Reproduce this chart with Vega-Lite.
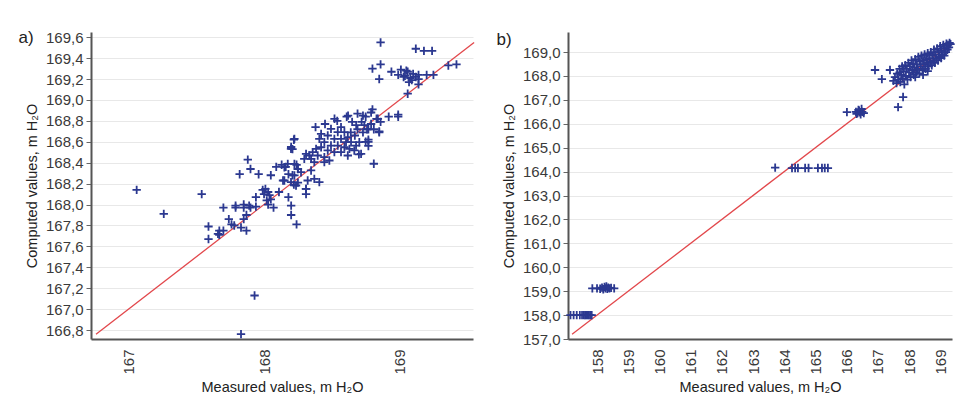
{
  "$schema": "https://vega.github.io/schema/vega-lite/v6.json",
  "background": "white",
  "padding": {"left": 18, "top": 29, "right": 5, "bottom": 2},
  "spacing": 21,
  "config": {
    "font": "Liberation Sans",
    "view": {"stroke": null},
    "axis": {
      "labelFont": "Liberation Sans", "labelFontSize": 15, "labelColor": "#3a3a3a",
      "titleFont": "Liberation Sans", "titleFontSize": 14.5, "titleFontWeight": "normal", "titleColor": "#222222",
      "domainColor": "#555555", "domainWidth": 2, "tickColor": "#666666", "gridColor": "#e8e8e8"
    },
    "title": {"font": "Liberation Sans", "fontSize": 17, "fontWeight": "normal", "color": "#222222", "anchor": "start", "frame": "bounds"}
  },
  "datasets": {
    "a": [
      {"m":168.86,"c":169.55},{"m":169.12,"c":169.49},{"m":169.18,"c":169.47},{"m":169.24,"c":169.47},{"m":168.80,"c":169.30},{"m":168.86,"c":169.34},{"m":168.85,"c":169.20},{"m":169.36,"c":169.33},{"m":169.42,"c":169.34},{"m":169.25,"c":169.24},{"m":169.20,"c":169.24},{"m":168.94,"c":169.27},{"m":168.99,"c":169.24},{"m":169.01,"c":169.29},{"m":169.03,"c":169.22},{"m":169.06,"c":169.27},{"m":169.08,"c":169.21},{"m":169.10,"c":169.25},{"m":169.14,"c":169.20},{"m":169.07,"c":169.17},{"m":169.14,"c":169.24},{"m":169.05,"c":169.28},{"m":169.06,"c":169.06},{"m":169.14,"c":169.15},{"m":169.04,"c":169.23},{"m":169.09,"c":169.19},{"m":169.12,"c":169.22},
      {"m":168.92,"c":168.84},{"m":168.99,"c":168.84},{"m":168.99,"c":168.86},{"m":168.79,"c":168.88},{"m":168.84,"c":168.82},{"m":168.85,"c":168.70},{"m":168.77,"c":168.72},{"m":168.81,"c":168.39},{"m":168.77,"c":168.60},{"m":168.77,"c":168.56},{"m":168.70,"c":168.48},
      {"m":168.80,"c":168.91},{"m":168.86,"c":168.79},{"m":168.85,"c":168.69},{"m":168.77,"c":168.62},{"m":168.75,"c":168.60},
      {"m":168.62,"c":168.85},{"m":168.69,"c":168.87},{"m":168.73,"c":168.85},{"m":168.75,"c":168.84},{"m":168.65,"c":168.79},{"m":168.68,"c":168.76},{"m":168.72,"c":168.79},{"m":168.74,"c":168.76},{"m":168.69,"c":168.72},{"m":168.64,"c":168.69},{"m":168.67,"c":168.66},{"m":168.73,"c":168.69},{"m":168.76,"c":168.72},{"m":168.79,"c":168.77},{"m":168.83,"c":168.82},{"m":168.81,"c":168.72},
      {"m":168.61,"c":168.84},{"m":168.54,"c":168.80},{"m":168.52,"c":168.82},{"m":168.45,"c":168.77},{"m":168.38,"c":168.74},
      {"m":168.568,"c":168.740},{"m":168.593,"c":168.692},{"m":168.618,"c":168.644},{"m":168.544,"c":168.692},{"m":168.494,"c":168.723},{"m":168.470,"c":168.660},{"m":168.519,"c":168.628},{"m":168.568,"c":168.628},{"m":168.605,"c":168.596},{"m":168.642,"c":168.596},{"m":168.421,"c":168.676},{"m":168.408,"c":168.628},{"m":168.445,"c":168.596},{"m":168.494,"c":168.564},{"m":168.544,"c":168.564},{"m":168.593,"c":168.548},{"m":168.630,"c":168.532},{"m":168.679,"c":168.564},{"m":168.703,"c":168.596},{"m":168.666,"c":168.517},{"m":168.716,"c":168.484},{"m":168.618,"c":168.469},{"m":168.568,"c":168.501},{"m":168.519,"c":168.501},{"m":168.470,"c":168.517},{"m":168.421,"c":168.548},{"m":168.384,"c":168.532},{"m":168.359,"c":168.501},{"m":168.334,"c":168.469},{"m":168.310,"c":168.484},{"m":168.396,"c":168.469},{"m":168.445,"c":168.453},{"m":168.482,"c":168.421},{"m":168.445,"c":168.405},{"m":168.371,"c":168.405},{"m":168.347,"c":168.437},{"m":168.297,"c":168.437},{"m":168.224,"c":168.628},{"m":168.199,"c":168.532},{"m":168.224,"c":168.389},{"m":168.175,"c":168.389},{"m":168.150,"c":168.357},{"m":168.249,"c":168.341},{"m":168.273,"c":168.309},{"m":168.347,"c":168.326},{"m":168.371,"c":168.245},{"m":168.408,"c":168.214},{"m":168.322,"c":168.230},{"m":168.224,"c":168.278},{"m":168.236,"c":168.182},{"m":168.310,"c":168.150},{"m":168.150,"c":168.230},{"m":168.199,"c":168.214},
      {"m":167.54,"c":168.10},{"m":167.59,"c":167.79},{"m":167.59,"c":167.67},{"m":167.67,"c":167.71},{"m":167.70,"c":167.75},{"m":167.70,"c":167.97},{"m":167.74,"c":167.86},{"m":167.78,"c":167.80},{"m":167.79,"c":167.97},{"m":167.83,"c":167.78},{"m":167.85,"c":168.00},{"m":167.85,"c":167.97},{"m":167.87,"c":167.90},{"m":167.85,"c":167.86},{"m":167.87,"c":167.75},{"m":167.88,"c":168.43},{"m":167.90,"c":168.34},{"m":167.82,"c":168.29},{"m":167.96,"c":168.29},{"m":167.90,"c":167.97},{"m":167.94,"c":168.07},{"m":167.99,"c":168.14},{"m":168.00,"c":168.10},{"m":168.01,"c":168.15},{"m":168.03,"c":168.12},{"m":168.04,"c":168.09},{"m":168.05,"c":168.05},{"m":168.02,"c":168.04},{"m":168.05,"c":168.28},{"m":168.07,"c":167.97},{"m":168.11,"c":168.12},{"m":168.09,"c":168.36},{"m":168.13,"c":168.38},{"m":168.16,"c":168.36},{"m":168.14,"c":168.23},{"m":168.18,"c":168.29},{"m":168.21,"c":168.28},{"m":168.20,"c":168.55},{"m":168.21,"c":168.53},{"m":168.22,"c":168.62},{"m":168.24,"c":168.38},{"m":168.25,"c":168.34},{"m":168.20,"c":167.90},{"m":168.24,"c":167.81},{"m":168.18,"c":168.07},{"m":168.20,"c":167.99},{"m":168.22,"c":168.19},{"m":168.25,"c":168.21},{"m":168.31,"c":168.15},{"m":168.31,"c":168.10},
      {"m":167.79,"c":167.99},{"m":167.89,"c":167.99},{"m":167.94,"c":167.98},{"m":168.03,"c":168.00},{"m":167.76,"c":167.81},{"m":167.67,"c":167.75},{"m":167.66,"c":167.72},
      {"m":167.06,"c":168.14},{"m":167.26,"c":167.91},{"m":167.93,"c":167.13},{"m":167.83,"c":166.76}
    ],
    "b": [
      {"m":157.15,"c":158.0},{"m":157.25,"c":158.0},{"m":157.35,"c":158.0},{"m":157.45,"c":158.0},{"m":157.52,"c":158.0},{"m":157.58,"c":158.0},{"m":157.62,"c":158.0},{"m":157.66,"c":158.0},{"m":157.70,"c":158.0},{"m":157.74,"c":158.0},{"m":157.78,"c":158.0},{"m":157.83,"c":158.0},
      {"m":157.85,"c":159.12},{"m":158.00,"c":159.12},{"m":158.10,"c":159.10},{"m":158.16,"c":159.15},{"m":158.20,"c":159.08},{"m":158.24,"c":159.18},{"m":158.27,"c":159.12},{"m":158.30,"c":159.20},{"m":158.33,"c":159.10},{"m":158.36,"c":159.15},{"m":158.40,"c":159.12},{"m":158.45,"c":159.14},{"m":158.55,"c":159.12},
      {"m":163.71,"c":164.17},{"m":164.25,"c":164.15},{"m":164.35,"c":164.15},{"m":164.44,"c":164.15},{"m":164.67,"c":164.15},{"m":164.78,"c":164.15},{"m":165.08,"c":164.15},{"m":165.21,"c":164.15},{"m":165.30,"c":164.15},{"m":165.40,"c":164.15},
      {"m":166.01,"c":166.49},{"m":166.30,"c":166.50},{"m":166.35,"c":166.45},{"m":166.40,"c":166.55},{"m":166.45,"c":166.40},{"m":166.50,"c":166.50},{"m":166.42,"c":166.48},{"m":166.38,"c":166.58},{"m":166.48,"c":166.62},{"m":166.55,"c":166.45},{"m":166.32,"c":166.42},
      {"m":166.91,"c":168.25},{"m":167.13,"c":167.87},{"m":167.39,"c":168.25},{"m":167.81,"c":167.12},{"m":167.65,"c":166.70},
      {"m":167.50,"c":167.80},{"m":167.55,"c":167.95},{"m":167.60,"c":167.70},{"m":167.62,"c":168.10},{"m":167.65,"c":167.85},{"m":167.70,"c":168.30},{"m":167.72,"c":167.75},{"m":167.75,"c":168.05},{"m":167.78,"c":168.40},{"m":167.80,"c":167.90},{"m":167.83,"c":168.20},{"m":167.85,"c":167.65},{"m":167.88,"c":168.45},{"m":167.90,"c":168.00},{"m":167.93,"c":168.30},{"m":167.95,"c":167.85},{"m":167.98,"c":168.55},{"m":168.00,"c":168.15},{"m":168.03,"c":168.40},{"m":168.05,"c":167.95},{"m":168.08,"c":168.65},{"m":168.10,"c":168.25},{"m":168.13,"c":168.50},{"m":168.15,"c":168.05},{"m":168.18,"c":168.35},{"m":168.20,"c":168.70},{"m":168.23,"c":168.15},{"m":168.25,"c":168.50},{"m":168.28,"c":168.30},{"m":168.30,"c":168.80},{"m":168.33,"c":168.10},{"m":168.35,"c":168.60},{"m":168.38,"c":168.40},{"m":168.40,"c":168.85},{"m":168.43,"c":168.25},{"m":168.45,"c":168.65},{"m":168.48,"c":168.50},{"m":168.50,"c":168.90},{"m":168.53,"c":168.30},{"m":168.55,"c":168.70},{"m":168.58,"c":168.55},{"m":168.60,"c":168.95},{"m":168.63,"c":168.40},{"m":168.65,"c":168.75},{"m":168.68,"c":168.60},{"m":168.70,"c":169.00},{"m":168.73,"c":168.45},{"m":168.75,"c":168.85},{"m":168.78,"c":168.65},{"m":168.80,"c":169.10},{"m":168.83,"c":168.55},{"m":168.85,"c":168.90},{"m":168.88,"c":168.75},{"m":168.90,"c":169.15},{"m":168.93,"c":168.65},{"m":168.95,"c":169.00},{"m":168.98,"c":168.80},{"m":169.00,"c":169.25},{"m":169.03,"c":168.75},{"m":169.05,"c":169.05},{"m":169.08,"c":168.90},{"m":169.10,"c":169.30},{"m":169.13,"c":168.85},{"m":169.15,"c":169.15},{"m":169.18,"c":169.00},{"m":169.20,"c":169.35},{"m":169.23,"c":169.10},{"m":169.25,"c":169.30},{"m":169.28,"c":169.20},{"m":169.30,"c":169.38},{"m":169.33,"c":169.33},{"m":168.20,"c":167.95},{"m":168.45,"c":168.05},{"m":167.70,"c":168.15},{"m":168.60,"c":168.20}
    ]
  },
  "hconcat": [
    {
      "width": 382, "height": 307,
      "title": {"text": "a)", "offset": 0, "dy": 17, "dx": -6},
      "layer": [
        {
          "data": {"values": [{"lo": 166.76, "hi": 169.55}]},
          "mark": {"type": "rule", "color": "#e2474b", "strokeWidth": 1.3},
          "encoding": {
            "x": {"field": "lo", "type": "quantitative"},
            "x2": {"field": "hi"},
            "y": {"field": "lo", "type": "quantitative"},
            "y2": {"field": "hi"}
          }
        },
        {
          "data": {"name": "a"},
          "mark": {"type": "point", "shape": "M-1,0H1M0,-1V1", "filled": false, "size": 70, "strokeWidth": 1.8, "color": "#2b3890", "opacity": 1},
          "encoding": {
            "x": {"field": "m", "type": "quantitative"},
            "y": {"field": "c", "type": "quantitative"}
          }
        }
      ],
      "encoding": {
        "x": {"type": "quantitative", "scale": {"domain": [166.723, 169.542], "nice": false, "zero": false},
              "axis": {"title": "Measured values, m H₂O", "values": [167, 168, 169], "format": "d", "labelAngle": -90, "grid": false, "ticks": false, "labelPadding": 10, "titlePadding": 6}},
        "y": {"type": "quantitative", "scale": {"domain": [166.714, 169.65], "nice": false, "zero": false},
              "axis": {"title": "Computed values, m H₂O", "values": [166.8, 167.0, 167.2, 167.4, 167.6, 167.8, 168.0, 168.2, 168.4, 168.6, 168.8, 169.0, 169.2, 169.4, 169.6],
                       "labelExpr": "replace(format(datum.value, '.1f'), '.', ',')", "tickSize": 5, "labelPadding": 3, "grid": true, "titlePadding": 6}}
      }
    },
    {
      "width": 384, "height": 307,
      "title": {"text": "b)", "offset": 0, "dy": 17, "dx": -5},
      "layer": [
        {
          "data": {"values": [{"lo": 157.2, "hi": 169.35}]},
          "mark": {"type": "rule", "color": "#e2474b", "strokeWidth": 1.3},
          "encoding": {
            "x": {"field": "lo", "type": "quantitative"},
            "x2": {"field": "hi"},
            "y": {"field": "lo", "type": "quantitative"},
            "y2": {"field": "hi"}
          }
        },
        {
          "data": {"name": "b"},
          "mark": {"type": "point", "shape": "M-1,0H1M0,-1V1", "filled": false, "size": 70, "strokeWidth": 1.8, "color": "#2b3890", "opacity": 1},
          "encoding": {
            "x": {"field": "m", "type": "quantitative"},
            "y": {"field": "c", "type": "quantitative"}
          }
        }
      ],
      "encoding": {
        "x": {"type": "quantitative", "scale": {"domain": [157.07, 169.378], "nice": false, "zero": false},
              "axis": {"title": "Measured values, m H₂O", "values": [158, 159, 160, 161, 162, 163, 164, 165, 166, 167, 168, 169], "format": "d", "labelAngle": -90, "grid": false, "ticks": false, "labelPadding": 10, "titlePadding": 6}},
        "y": {"type": "quantitative", "scale": {"domain": [157.0, 169.84], "nice": false, "zero": false},
              "axis": {"title": "Computed values, m H₂O", "values": [157, 158, 159, 160, 161, 162, 163, 164, 165, 166, 167, 168, 169],
                       "labelExpr": "replace(format(datum.value, '.1f'), '.', ',')", "tickSize": 5, "labelPadding": 3, "grid": true, "titlePadding": 6}}
      }
    }
  ]
}
